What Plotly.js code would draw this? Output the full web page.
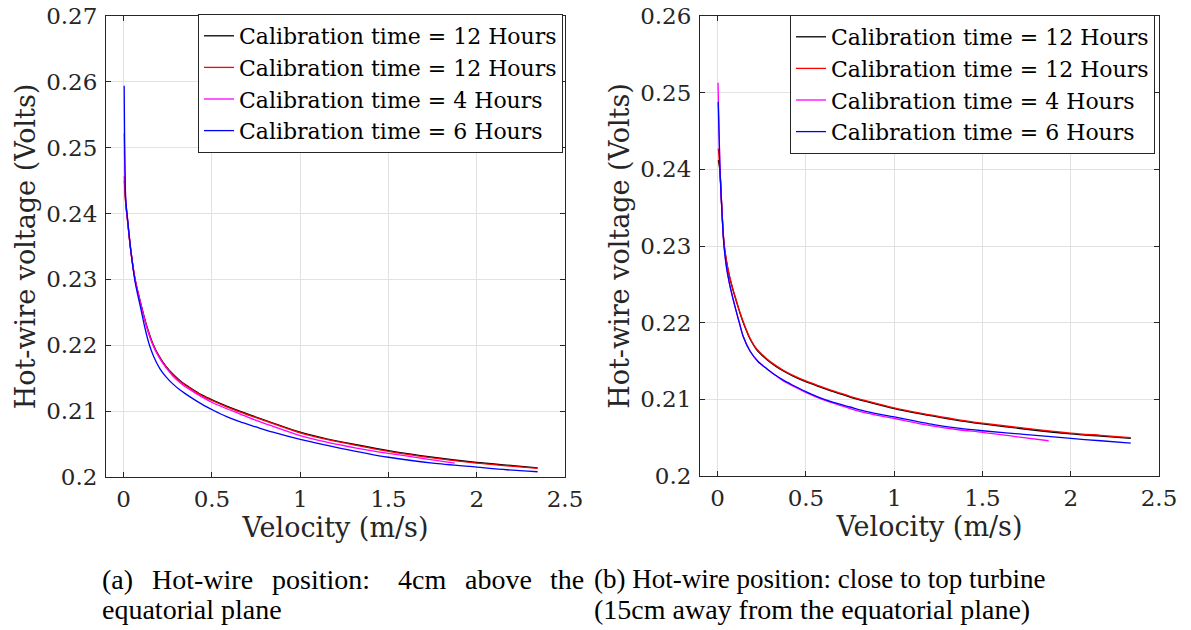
<!DOCTYPE html>
<html>
<head>
<meta charset="utf-8">
<script src="https://cdn.plot.ly/plotly-3.0.1.min.js"></script>
<style>
html,body{margin:0;padding:0;background:#fff;}
#chart{width:1191px;height:630px;}
</style>
</head>
<body>
<div id="chart"></div>
<script>
// ---------------- DATA ----------------
const seriesNames = ["Calibration time = 12 Hours", "Calibration time = 12 Hours", "Calibration time = 4 Hours", "Calibration time = 6 Hours"];
const xTickVals = [0, 0.5, 1, 1.5, 2, 2.5];

// Panel (a): 4cm above the equatorial plane
const velA_12h_1 = [0.004, 0.012, 0.02, 0.04, 0.065, 0.1, 0.13, 0.166, 0.2, 0.24, 0.28, 0.33, 0.374, 0.44, 0.51, 0.58, 0.657, 0.75, 0.846, 1.0, 1.15, 1.318, 1.5, 1.75, 2.0, 2.17, 2.345];
const voltA_12h_1 = [0.2450, 0.2415, 0.2395, 0.2345, 0.2300, 0.2260, 0.2230, 0.2202, 0.2184, 0.2168, 0.2156, 0.2144, 0.2136, 0.2125, 0.2116, 0.2108, 0.2100, 0.2091, 0.2082, 0.2068, 0.2058, 0.2049, 0.2040, 0.2030, 0.2022, 0.2018, 0.2014];

const velA_12h_2 = [0.004, 0.012, 0.02, 0.04, 0.065, 0.1, 0.13, 0.166, 0.2, 0.24, 0.28, 0.33, 0.374, 0.44, 0.51, 0.58, 0.657, 0.75, 0.846, 1.0, 1.15, 1.318, 1.5, 1.75, 2.0, 2.17, 2.345];
const voltA_12h_2 = [0.2457, 0.2414, 0.2394, 0.2344, 0.2299, 0.2259, 0.2229, 0.2201, 0.2183, 0.2167, 0.2155, 0.2143, 0.2135, 0.2124, 0.2115, 0.2107, 0.2099, 0.2090, 0.2081, 0.2067, 0.2057, 0.2048, 0.2039, 0.2029, 0.2021, 0.2017, 0.2013];

const velA_4h = [0.003, 0.012, 0.02, 0.04, 0.065, 0.1, 0.13, 0.166, 0.2, 0.24, 0.28, 0.33, 0.374, 0.44, 0.51, 0.58, 0.657, 0.75, 0.846, 1.0, 1.15, 1.318, 1.5, 1.7, 1.875];
const voltA_4h = [0.2522, 0.2418, 0.2396, 0.2346, 0.2300, 0.2259, 0.2228, 0.2200, 0.2182, 0.2166, 0.2153, 0.2141, 0.2133, 0.2122, 0.2112, 0.2104, 0.2096, 0.2086, 0.2077, 0.2063, 0.2053, 0.2044, 0.2036, 0.2028, 0.2021];

const velA_6h = [0.003, 0.012, 0.02, 0.04, 0.065, 0.1, 0.12, 0.144, 0.17, 0.204, 0.24, 0.28, 0.32, 0.374, 0.44, 0.51, 0.58, 0.657, 0.75, 0.846, 1.0, 1.223, 1.5, 1.75, 2.0, 2.17, 2.345];
const voltA_6h = [0.2594, 0.2420, 0.2398, 0.2345, 0.2296, 0.2252, 0.2227, 0.2202, 0.2183, 0.2165, 0.2152, 0.2141, 0.2132, 0.2122, 0.2111, 0.2101, 0.2092, 0.2084, 0.2076, 0.2068, 0.2057, 0.2044, 0.2030, 0.2021, 0.2015, 0.2011, 0.2008];

// Panel (b): close to top turbine
const velB_12h_1 = [0.004, 0.013, 0.02, 0.028, 0.036, 0.05, 0.066, 0.085, 0.107, 0.13, 0.155, 0.183, 0.22, 0.278, 0.33, 0.372, 0.43, 0.499, 0.57, 0.656, 0.75, 0.845, 1.0, 1.223, 1.374, 1.5, 1.75, 2.0, 2.17, 2.34];
const voltB_12h_1 = [0.2412, 0.2398, 0.2366, 0.2330, 0.2303, 0.2280, 0.2261, 0.2244, 0.2227, 0.2210, 0.2194, 0.2179, 0.2165, 0.2152, 0.2143, 0.2137, 0.2130, 0.2123, 0.2117, 0.2110, 0.2103, 0.2097, 0.2088, 0.2078, 0.2072, 0.2068, 0.2061, 0.2055, 0.2052, 0.2049];

const velB_12h_2 = [0.004, 0.013, 0.02, 0.028, 0.036, 0.05, 0.066, 0.085, 0.107, 0.13, 0.155, 0.183, 0.22, 0.278, 0.33, 0.372, 0.43, 0.499, 0.57, 0.656, 0.75, 0.845, 1.0, 1.223, 1.374, 1.5, 1.75, 2.0, 2.17, 2.34];
const voltB_12h_2 = [0.2427, 0.2399, 0.2367, 0.2331, 0.2304, 0.2281, 0.2262, 0.2245, 0.2228, 0.2211, 0.2195, 0.2180, 0.2166, 0.2153, 0.2144, 0.2138, 0.2131, 0.2124, 0.2118, 0.2111, 0.2104, 0.2098, 0.2089, 0.2079, 0.2073, 0.2069, 0.2062, 0.2056, 0.2053, 0.2050];

const velB_4h = [0.002, 0.013, 0.02, 0.028, 0.036, 0.05, 0.066, 0.085, 0.105, 0.125, 0.145, 0.183, 0.23, 0.278, 0.33, 0.372, 0.43, 0.499, 0.57, 0.656, 0.75, 0.845, 1.0, 1.223, 1.374, 1.5, 1.7, 1.875];
const voltB_4h = [0.2513, 0.2401, 0.2365, 0.2329, 0.2301, 0.2273, 0.2252, 0.2233, 0.2215, 0.2198, 0.2182, 0.2163, 0.2149, 0.2140, 0.2131, 0.2124, 0.2117, 0.2109, 0.2102, 0.2095, 0.2088, 0.2082, 0.2075, 0.2065, 0.2060, 0.2057, 0.2051, 0.2046];

const velB_6h = [0.003, 0.013, 0.02, 0.028, 0.036, 0.05, 0.066, 0.085, 0.105, 0.125, 0.145, 0.183, 0.23, 0.278, 0.33, 0.372, 0.43, 0.499, 0.57, 0.656, 0.75, 0.845, 1.0, 1.223, 1.374, 1.5, 1.75, 2.0, 2.17, 2.34];
const voltB_6h = [0.2488, 0.2400, 0.2364, 0.2328, 0.2300, 0.2272, 0.2252, 0.2233, 0.2215, 0.2198, 0.2182, 0.2163, 0.2149, 0.2140, 0.2131, 0.2125, 0.2118, 0.2110, 0.2103, 0.2096, 0.2090, 0.2084, 0.2077, 0.2067, 0.2062, 0.2059, 0.2054, 0.2049, 0.2046, 0.2043];

// ---------------- STYLE ----------------
const W = 1191, H = 630;
const FONT = "DejaVu Serif, Liberation Serif, serif";
const CAPFONT = "Liberation Serif, DejaVu Serif, serif";
const AX = "#262626";
const GRID = "#e2e2e2";
const colors = ["#000000", "#ff0000", "#ff00ff", "#0000ff"];
const px = v => v / W;
const py = v => 1 - v / H;

const panelA = [[velA_12h_1, voltA_12h_1], [velA_12h_2, voltA_12h_2], [velA_4h, voltA_4h], [velA_6h, voltA_6h]];
const panelB = [[velB_12h_1, voltB_12h_1], [velB_12h_2, voltB_12h_2], [velB_4h, voltB_4h], [velB_6h, voltB_6h]];

const traces = [];
panelA.forEach((s, i) => traces.push({
  x: s[0], y: s[1], type: "scatter", mode: "lines", name: seriesNames[i],
  line: {color: colors[i], width: 1.3, shape: "spline", smoothing: 0.8}, xaxis: "x", yaxis: "y", legend: "legend"
}));
panelB.forEach((s, i) => traces.push({
  x: s[0], y: s[1], type: "scatter", mode: "lines", name: seriesNames[i],
  line: {color: colors[i], width: 1.3, shape: "spline", smoothing: 0.8}, xaxis: "x2", yaxis: "y2", legend: "legend2"
}));

function xAx(dom, anchor) {
  return {
    domain: dom, anchor: anchor, range: [-0.1, 2.5], tickvals: xTickVals,
    ticktext: xTickVals.map(String),
    ticks: "inside", ticklen: 5, tickcolor: AX, tickwidth: 1,
    showline: true, linecolor: AX, linewidth: 1, mirror: "allticks",
    showgrid: true, gridcolor: GRID, gridwidth: 1, zeroline: false,
    tickfont: {family: FONT, size: 23, color: AX}, ticklabelstandoff: 1,
    title: {text: "Velocity (m/s)", font: {family: FONT, size: 27, color: AX}, standoff: 0},
    automargin: false, fixedrange: true
  };
}
function yAx(dom, anchor, range) {
  return {
    domain: dom, anchor: anchor, range: range, dtick: 0.01, tick0: 0.2,
    ticks: "inside", ticklen: 5, tickcolor: AX, tickwidth: 1,
    showline: true, linecolor: AX, linewidth: 1, mirror: "allticks",
    showgrid: true, gridcolor: GRID, gridwidth: 1, zeroline: false,
    tickfont: {family: FONT, size: 23, color: AX}, ticklabelstandoff: 3,
    title: {text: "Hot-wire voltage (Volts)", font: {family: FONT, size: 27, color: AX}, standoff: 2},
    automargin: false, fixedrange: true
  };
}
function legendAt(xr, yt) {
  return {
    x: px(xr), y: py(yt), xanchor: "right", yanchor: "top",
    bgcolor: "#ffffff", bordercolor: AX, borderwidth: 1,
    font: {family: FONT, size: 22, color: "#000000"}, tracegroupgap: 0, itemwidth: 30
  };
}

function cap(text, xLeft, yMid, size) {
  return {text: text, x: px(xLeft), y: py(yMid), xref: "paper", yref: "paper",
          xanchor: "left", yanchor: "middle", showarrow: false,
          font: {family: CAPFONT, size: size || 28, color: "#000000"}};
}

const layout = {
  width: W, height: H,
  margin: {l: 0, r: 0, t: 0, b: 0},
  paper_bgcolor: "#ffffff", plot_bgcolor: "#ffffff",
  showlegend: true,
  xaxis: xAx([px(106), px(565)], "y"),
  yaxis: yAx([py(477), py(16)], "x", [0.2, 0.27]),
  xaxis2: xAx([px(700), px(1159)], "y2"),
  yaxis2: yAx([py(476), py(16)], "x2", [0.2, 0.26]),
  legend: legendAt(563, 14),
  legend2: legendAt(1155, 15),
  annotations: [
    cap("(a)", 100, 579),
    cap("Hot-wire", 150, 579),
    cap("position:", 270, 579),
    cap("4cm", 396, 579),
    cap("above", 463, 579),
    cap("the", 548, 579),
    cap("equatorial plane", 100, 609),
    cap("(b) Hot-wire position: close to top turbine", 592, 579, 27),
    cap("(15cm away from the equatorial plane)", 592, 609)
  ]
};

Plotly.newPlot("chart", traces, layout, {displayModeBar: false, staticPlot: true});
</script>
</body>
</html>
